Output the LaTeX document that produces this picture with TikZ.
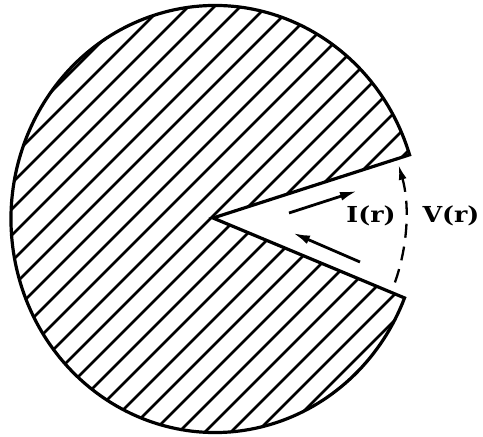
\documentclass[tikz,border=0pt]{standalone}
\usepackage{fontspec}
\newfontfamily\labelfont[FakeStretch=1.15]{DejaVu Serif}
\usetikzlibrary{arrows.meta,calc}
\tikzset{
  outline/.style={draw=black,line width=3.2pt,line join=miter},
  hatch/.style={draw=black,line width=2.6pt},
  flow/.style={-{Latex[length=17pt,width=9pt]},line width=2.8pt},
  gap/.style={-{Latex[length=15pt,width=8pt]},line width=2.3pt,dash pattern=on 14pt off 9pt},
  lbl/.style={font=\labelfont\bfseries\fontsize{22}{24}\selectfont,inner sep=0pt},
}

\begin{document}
\begin{tikzpicture}[x=1pt,y=1pt]
  \useasboundingbox (0,0) rectangle (483,437);
  \coordinate (c) at (215,218);
  \coordinate (apex) at (213,219);
  \path (c) ++(17.5:204 and 213.5) coordinate (utip);
  \path (c) ++(-21.7:204 and 213.5) coordinate (ltip);
  % hatched disc with the cut
  \begin{scope}
    \clip (apex) -- (utip) arc[start angle=17.5,end angle=338.3,x radius=204,y radius=213.5] -- cycle;
    \foreach \k in {-18,...,16}
      \draw[hatch] (18+26*\k,0) -- ++(437,437);
  \end{scope}
  \draw[outline] (apex) -- (utip) arc[start angle=17.5,end angle=338.3,x radius=204,y radius=213.5] -- cycle;
  % currents and gap voltage
  \coordinate (iin) at (289,224);
  \coordinate (iout) at (357,246);
  \coordinate (rin) at (360,175);
  \coordinate (rout) at (293,204);
  \coordinate (vlo) at ($(apex)+(-19.5:193)$);
  \draw[flow] (iin) -- (iout);
  \draw[flow] (rin) -- (rout);
  \draw[gap] (vlo) arc[start angle=-19.5,end angle=16,radius=193];
  \node[lbl] (cur) at (371,221) {I(r)};
  \node[lbl] (volt) at (451,221) {V(r)};
\end{tikzpicture}
\end{document}
